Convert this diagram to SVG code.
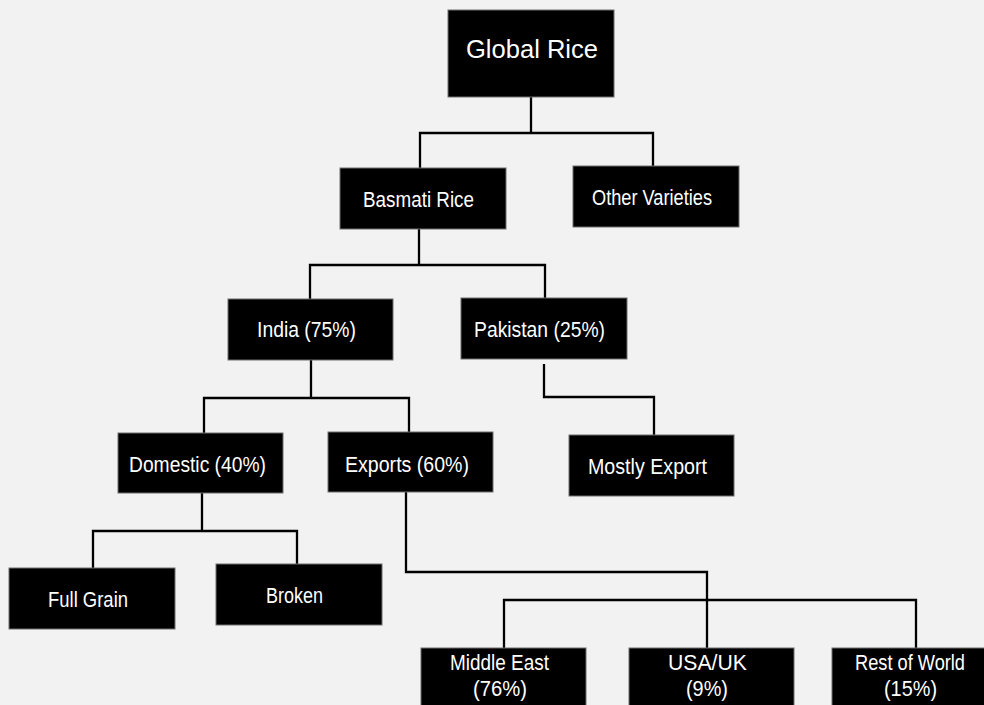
<svg xmlns="http://www.w3.org/2000/svg" width="984" height="705" viewBox="0 0 984 705">
<style>
.bg{fill:#f2f2f2}
.box{fill:#000;stroke:#6e6e6e;stroke-width:1}
.t{fill:#fff;font-family:"Liberation Sans",Arial,sans-serif;font-size:22px}
.big{font-size:26px}
.c{fill:none;stroke:#000;stroke-width:2.3;stroke-linejoin:miter}
</style>
<rect class="bg" x="0" y="0" width="984" height="705"/>
<g id="connectors">
<path class="c" d="M531 97V133M420 168V133H653V166"/>
<path class="c" d="M419 229V265M310 299V265H545V298"/>
<path class="c" d="M311 360V398M204 433V398H409V432"/>
<path class="c" d="M544 364V397H654V435"/>
<path class="c" d="M202 493V531M93 568V531H297V564"/>
<path class="c" d="M406 492V572H707V648"/>
<path class="c" d="M504 648V600H916V648"/>
</g>
<g id="global-rice">
<rect class="box" x="448" y="10" width="166" height="87"/>
<text class="t big" x="466" y="58" textLength="132" lengthAdjust="spacingAndGlyphs">Global Rice</text>
</g>
<g id="basmati-rice">
<rect class="box" x="340" y="168" width="166" height="61"/>
<text class="t" x="363" y="207" textLength="111" lengthAdjust="spacingAndGlyphs">Basmati Rice</text>
</g>
<g id="other-varieties">
<rect class="box" x="573" y="166" width="166" height="61"/>
<text class="t" x="592" y="205" textLength="120" lengthAdjust="spacingAndGlyphs">Other Varieties</text>
</g>
<g id="india">
<rect class="box" x="228" y="299" width="165" height="61"/>
<text class="t" x="257" y="337" textLength="99" lengthAdjust="spacingAndGlyphs">India (75%)</text>
</g>
<g id="pakistan">
<rect class="box" x="461" y="298" width="166" height="61"/>
<text class="t" x="474" y="337" textLength="131" lengthAdjust="spacingAndGlyphs">Pakistan (25%)</text>
</g>
<g id="domestic">
<rect class="box" x="118" y="433" width="165" height="60"/>
<text class="t" x="129" y="472" textLength="137" lengthAdjust="spacingAndGlyphs">Domestic (40%)</text>
</g>
<g id="exports">
<rect class="box" x="328" y="432" width="165" height="60"/>
<text class="t" x="345" y="472" textLength="124" lengthAdjust="spacingAndGlyphs">Exports (60%)</text>
</g>
<g id="mostly-export">
<rect class="box" x="569" y="435" width="165" height="61"/>
<text class="t" x="588" y="474" textLength="119" lengthAdjust="spacingAndGlyphs">Mostly Export</text>
</g>
<g id="full-grain">
<rect class="box" x="9" y="568" width="166" height="61"/>
<text class="t" x="48" y="607" textLength="80" lengthAdjust="spacingAndGlyphs">Full Grain</text>
</g>
<g id="broken">
<rect class="box" x="216" y="564" width="166" height="61"/>
<text class="t" x="266" y="603" textLength="57" lengthAdjust="spacingAndGlyphs">Broken</text>
</g>
<g id="middle-east">
<rect class="box" x="421" y="648" width="165" height="58"/>
<text class="t" x="450" y="670" textLength="99" lengthAdjust="spacingAndGlyphs">Middle East</text>
<text class="t" x="473" y="696" textLength="54" lengthAdjust="spacingAndGlyphs">(76%)</text>
</g>
<g id="usa-uk">
<rect class="box" x="629" y="648" width="165" height="58"/>
<text class="t" x="668" y="670" textLength="79" lengthAdjust="spacingAndGlyphs">USA/UK</text>
<text class="t" x="686" y="696" textLength="42" lengthAdjust="spacingAndGlyphs">(9%)</text>
</g>
<g id="rest-of-world">
<rect class="box" x="832" y="648" width="153" height="58"/>
<text class="t" x="855" y="670" textLength="110" lengthAdjust="spacingAndGlyphs">Rest of World</text>
<text class="t" x="884" y="696" textLength="53" lengthAdjust="spacingAndGlyphs">(15%)</text>
</g>
</svg>
